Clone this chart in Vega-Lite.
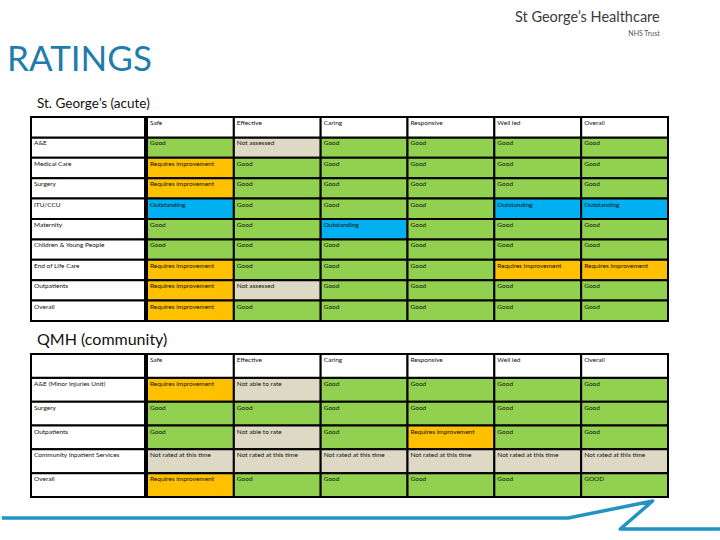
{
  "$schema": "https://vega.github.io/schema/vega-lite/v6.json",
  "background": "white",
  "padding": {"left": 0, "top": 9, "right": 0, "bottom": 0},
  "config": {"view": {"stroke": null}},
  "title": {"text": "St George’s Healthcare", "subtitle": "NHS Trust", "anchor": "end", "font": "Lato", "fontSize": 14.5, "fontWeight": "normal", "color": "#3a3a3a", "subtitleFont": "Lato", "subtitleFontSize": 7, "subtitleColor": "#555555", "subtitlePadding": 5, "dx": -62, "offset": 5},
  "datasets": {
    "acute": [
      {"service": "A&E", "measure": "Safe", "rating": "Good"},
      {"service": "A&E", "measure": "Effective", "rating": "Not assessed"},
      {"service": "A&E", "measure": "Caring", "rating": "Good"},
      {"service": "A&E", "measure": "Responsive", "rating": "Good"},
      {"service": "A&E", "measure": "Well led", "rating": "Good"},
      {"service": "A&E", "measure": "Overall", "rating": "Good"},
      {"service": "Medical Care", "measure": "Safe", "rating": "Requires improvement"},
      {"service": "Medical Care", "measure": "Effective", "rating": "Good"},
      {"service": "Medical Care", "measure": "Caring", "rating": "Good"},
      {"service": "Medical Care", "measure": "Responsive", "rating": "Good"},
      {"service": "Medical Care", "measure": "Well led", "rating": "Good"},
      {"service": "Medical Care", "measure": "Overall", "rating": "Good"},
      {"service": "Surgery", "measure": "Safe", "rating": "Requires improvement"},
      {"service": "Surgery", "measure": "Effective", "rating": "Good"},
      {"service": "Surgery", "measure": "Caring", "rating": "Good"},
      {"service": "Surgery", "measure": "Responsive", "rating": "Good"},
      {"service": "Surgery", "measure": "Well led", "rating": "Good"},
      {"service": "Surgery", "measure": "Overall", "rating": "Good"},
      {"service": "ITU/CCU", "measure": "Safe", "rating": "Outstanding"},
      {"service": "ITU/CCU", "measure": "Effective", "rating": "Good"},
      {"service": "ITU/CCU", "measure": "Caring", "rating": "Good"},
      {"service": "ITU/CCU", "measure": "Responsive", "rating": "Good"},
      {"service": "ITU/CCU", "measure": "Well led", "rating": "Outstanding"},
      {"service": "ITU/CCU", "measure": "Overall", "rating": "Outstanding"},
      {"service": "Maternity", "measure": "Safe", "rating": "Good"},
      {"service": "Maternity", "measure": "Effective", "rating": "Good"},
      {"service": "Maternity", "measure": "Caring", "rating": "Outstanding"},
      {"service": "Maternity", "measure": "Responsive", "rating": "Good"},
      {"service": "Maternity", "measure": "Well led", "rating": "Good"},
      {"service": "Maternity", "measure": "Overall", "rating": "Good"},
      {"service": "Children & Young People", "measure": "Safe", "rating": "Good"},
      {"service": "Children & Young People", "measure": "Effective", "rating": "Good"},
      {"service": "Children & Young People", "measure": "Caring", "rating": "Good"},
      {"service": "Children & Young People", "measure": "Responsive", "rating": "Good"},
      {"service": "Children & Young People", "measure": "Well led", "rating": "Good"},
      {"service": "Children & Young People", "measure": "Overall", "rating": "Good"},
      {"service": "End of Life Care", "measure": "Safe", "rating": "Requires improvement"},
      {"service": "End of Life Care", "measure": "Effective", "rating": "Good"},
      {"service": "End of Life Care", "measure": "Caring", "rating": "Good"},
      {"service": "End of Life Care", "measure": "Responsive", "rating": "Good"},
      {"service": "End of Life Care", "measure": "Well led", "rating": "Requires improvement"},
      {"service": "End of Life Care", "measure": "Overall", "rating": "Requires improvement"},
      {"service": "Outpatients", "measure": "Safe", "rating": "Requires improvement"},
      {"service": "Outpatients", "measure": "Effective", "rating": "Not assessed"},
      {"service": "Outpatients", "measure": "Caring", "rating": "Good"},
      {"service": "Outpatients", "measure": "Responsive", "rating": "Good"},
      {"service": "Outpatients", "measure": "Well led", "rating": "Good"},
      {"service": "Outpatients", "measure": "Overall", "rating": "Good"},
      {"service": "Overall", "measure": "Safe", "rating": "Requires improvement"},
      {"service": "Overall", "measure": "Effective", "rating": "Good"},
      {"service": "Overall", "measure": "Caring", "rating": "Good"},
      {"service": "Overall", "measure": "Responsive", "rating": "Good"},
      {"service": "Overall", "measure": "Well led", "rating": "Good"},
      {"service": "Overall", "measure": "Overall", "rating": "Good"}
    ],
    "community": [
      {"service": "A&E (Minor Injuries Unit)", "measure": "Safe", "rating": "Requires improvement"},
      {"service": "A&E (Minor Injuries Unit)", "measure": "Effective", "rating": "Not able to rate"},
      {"service": "A&E (Minor Injuries Unit)", "measure": "Caring", "rating": "Good"},
      {"service": "A&E (Minor Injuries Unit)", "measure": "Responsive", "rating": "Good"},
      {"service": "A&E (Minor Injuries Unit)", "measure": "Well led", "rating": "Good"},
      {"service": "A&E (Minor Injuries Unit)", "measure": "Overall", "rating": "Good"},
      {"service": "Surgery", "measure": "Safe", "rating": "Good"},
      {"service": "Surgery", "measure": "Effective", "rating": "Good"},
      {"service": "Surgery", "measure": "Caring", "rating": "Good"},
      {"service": "Surgery", "measure": "Responsive", "rating": "Good"},
      {"service": "Surgery", "measure": "Well led", "rating": "Good"},
      {"service": "Surgery", "measure": "Overall", "rating": "Good"},
      {"service": "Outpatients", "measure": "Safe", "rating": "Good"},
      {"service": "Outpatients", "measure": "Effective", "rating": "Not able to rate"},
      {"service": "Outpatients", "measure": "Caring", "rating": "Good"},
      {"service": "Outpatients", "measure": "Responsive", "rating": "Requires improvement"},
      {"service": "Outpatients", "measure": "Well led", "rating": "Good"},
      {"service": "Outpatients", "measure": "Overall", "rating": "Good"},
      {"service": "Community Inpatient Services", "measure": "Safe", "rating": "Not rated at this time"},
      {"service": "Community Inpatient Services", "measure": "Effective", "rating": "Not rated at this time"},
      {"service": "Community Inpatient Services", "measure": "Caring", "rating": "Not rated at this time"},
      {"service": "Community Inpatient Services", "measure": "Responsive", "rating": "Not rated at this time"},
      {"service": "Community Inpatient Services", "measure": "Well led", "rating": "Not rated at this time"},
      {"service": "Community Inpatient Services", "measure": "Overall", "rating": "Not rated at this time"},
      {"service": "Overall", "measure": "Safe", "rating": "Requires improvement"},
      {"service": "Overall", "measure": "Effective", "rating": "Good"},
      {"service": "Overall", "measure": "Caring", "rating": "Good"},
      {"service": "Overall", "measure": "Responsive", "rating": "Good"},
      {"service": "Overall", "measure": "Well led", "rating": "Good"},
      {"service": "Overall", "measure": "Overall", "rating": "GOOD"}
    ],
    "headers": [
      {"service": "(header)", "measure": "Safe"},
      {"service": "(header)", "measure": "Effective"},
      {"service": "(header)", "measure": "Caring"},
      {"service": "(header)", "measure": "Responsive"},
      {"service": "(header)", "measure": "Well led"},
      {"service": "(header)", "measure": "Overall"}
    ],
    "swoosh": [
      {"step": 1, "pos": -4.6, "depth": 3},
      {"step": 2, "pos": 84.6, "depth": 3},
      {"step": 3, "pos": 97.9, "depth": -14},
      {"step": 4, "pos": 92.8, "depth": 14},
      {"step": 5, "pos": 108.5, "depth": 14}
    ]
  },
  "spacing": 10,
  "vconcat": [
    {
      "title": {"text": "RATINGS", "anchor": "start", "font": "Lato", "fontSize": 35, "fontWeight": "normal", "color": "#1E7DAD", "dx": -23, "offset": 18.5},
      "vconcat": [
        {
          "title": {"text": "St. George’s (acute)", "anchor": "start", "font": "Lato", "fontSize": 13.5, "fontWeight": "normal", "color": "#111111", "dx": 7, "offset": 6},
          "spacing": 0,
          "hconcat": [
            {
              "width": 114, "height": 204,
              "data": {"name": "acute"},
              "transform": [{"filter": "datum.measure === 'Safe'"}],
              "layer": [
                {
                  "mark": {"type": "rect", "fill": "white", "stroke": "black", "strokeWidth": 2},
                  "encoding": {
                    "x": {"datum": "label", "type": "nominal", "scale": {"type": "band", "domain": ["label"], "paddingInner": 0, "paddingOuter": 0}, "axis": null},
                    "y": {"field": "service", "type": "nominal", "scale": {"type": "band", "domain": ["(header)", "A&E", "Medical Care", "Surgery", "ITU/CCU", "Maternity", "Children & Young People", "End of Life Care", "Outpatients", "Overall"], "paddingInner": 0, "paddingOuter": 0}, "axis": null}
                  }
                },
                {
                  "data": {"values": [{"service": "(header)"}]},
                  "transform": [],
                  "mark": {"type": "rect", "fill": "white", "stroke": "black", "strokeWidth": 2},
                  "encoding": {
                    "x": {"datum": "label", "type": "nominal"},
                    "y": {"field": "service", "type": "nominal"}
                  }
                },
                {
                  "mark": {"type": "text", "align": "left", "baseline": "top", "dx": 3, "dy": 3, "font": "Lato", "fontSize": 6.5, "color": "#111111"},
                  "encoding": {
                    "x": {"datum": "label", "type": "nominal", "bandPosition": 0},
                    "y": {"field": "service", "type": "nominal", "bandPosition": 0},
                    "text": {"field": "service"}
                  }
                }
              ]
            },
            {
              "width": 521, "height": 204,
              "layer": [
                {
                  "data": {"name": "acute"},
                  "mark": {"type": "rect", "stroke": "black", "strokeWidth": 2},
                  "encoding": {
                    "x": {"field": "measure", "type": "nominal", "scale": {"type": "band", "domain": ["Safe", "Effective", "Caring", "Responsive", "Well led", "Overall"], "paddingInner": 0, "paddingOuter": 0}, "axis": null},
                    "y": {"field": "service", "type": "nominal", "scale": {"type": "band", "domain": ["(header)", "A&E", "Medical Care", "Surgery", "ITU/CCU", "Maternity", "Children & Young People", "End of Life Care", "Outpatients", "Overall"], "paddingInner": 0, "paddingOuter": 0}, "axis": null},
                    "fill": {"field": "rating", "type": "nominal", "scale": {"domain": ["Good", "GOOD", "Requires improvement", "Outstanding", "Not assessed", "Not able to rate", "Not rated at this time"], "range": ["#92D050", "#92D050", "#FFC000", "#00B0F0", "#DDD9C4", "#DDD9C4", "#DDD9C4"]}, "legend": null}
                  }
                },
                {
                  "data": {"name": "headers"},
                  "mark": {"type": "rect", "fill": "white", "stroke": "black", "strokeWidth": 2},
                  "encoding": {
                    "x": {"field": "measure", "type": "nominal"},
                    "y": {"field": "service", "type": "nominal"}
                  }
                },
                {
                  "data": {"name": "acute"},
                  "mark": {"type": "text", "align": "left", "baseline": "top", "dx": 3, "dy": 3, "font": "Lato", "fontSize": 6.5, "color": "#111111"},
                  "encoding": {
                    "x": {"field": "measure", "type": "nominal", "bandPosition": 0},
                    "y": {"field": "service", "type": "nominal", "bandPosition": 0},
                    "text": {"field": "rating"}
                  }
                },
                {
                  "data": {"name": "headers"},
                  "mark": {"type": "text", "align": "left", "baseline": "top", "dx": 3, "dy": 3, "font": "Lato", "fontSize": 6.5, "color": "#111111"},
                  "encoding": {
                    "x": {"field": "measure", "type": "nominal", "bandPosition": 0},
                    "y": {"field": "service", "type": "nominal", "bandPosition": 0},
                    "text": {"field": "measure"}
                  }
                }
              ]
            }
          ]
        }
      ]
    },
    {
      "title": {"text": "QMH (community)", "anchor": "start", "font": "Lato", "fontSize": 16, "fontWeight": "normal", "color": "#111111", "dx": 37, "offset": 5},
      "spacing": 1,
      "vconcat": [
        {
          "spacing": 0,
          "hconcat": [
            {
              "width": 114, "height": 143,
              "data": {"name": "community"},
              "transform": [{"filter": "datum.measure === 'Safe'"}],
              "layer": [
                {
                  "mark": {"type": "rect", "fill": "white", "stroke": "black", "strokeWidth": 2},
                  "encoding": {
                    "x": {"datum": "label", "type": "nominal", "scale": {"type": "band", "domain": ["label"], "paddingInner": 0, "paddingOuter": 0}, "axis": null},
                    "y": {"field": "service", "type": "nominal", "scale": {"type": "band", "domain": ["(header)", "A&E (Minor Injuries Unit)", "Surgery", "Outpatients", "Community Inpatient Services", "Overall"], "paddingInner": 0, "paddingOuter": 0}, "axis": null}
                  }
                },
                {
                  "data": {"values": [{"service": "(header)"}]},
                  "transform": [],
                  "mark": {"type": "rect", "fill": "white", "stroke": "black", "strokeWidth": 2},
                  "encoding": {
                    "x": {"datum": "label", "type": "nominal"},
                    "y": {"field": "service", "type": "nominal"}
                  }
                },
                {
                  "mark": {"type": "text", "align": "left", "baseline": "top", "dx": 3, "dy": 3, "font": "Lato", "fontSize": 6.5, "color": "#111111"},
                  "encoding": {
                    "x": {"datum": "label", "type": "nominal", "bandPosition": 0},
                    "y": {"field": "service", "type": "nominal", "bandPosition": 0},
                    "text": {"field": "service"}
                  }
                }
              ]
            },
            {
              "width": 521, "height": 143,
              "layer": [
                {
                  "data": {"name": "community"},
                  "mark": {"type": "rect", "stroke": "black", "strokeWidth": 2},
                  "encoding": {
                    "x": {"field": "measure", "type": "nominal", "scale": {"type": "band", "domain": ["Safe", "Effective", "Caring", "Responsive", "Well led", "Overall"], "paddingInner": 0, "paddingOuter": 0}, "axis": null},
                    "y": {"field": "service", "type": "nominal", "scale": {"type": "band", "domain": ["(header)", "A&E (Minor Injuries Unit)", "Surgery", "Outpatients", "Community Inpatient Services", "Overall"], "paddingInner": 0, "paddingOuter": 0}, "axis": null},
                    "fill": {"field": "rating", "type": "nominal", "scale": {"domain": ["Good", "GOOD", "Requires improvement", "Outstanding", "Not assessed", "Not able to rate", "Not rated at this time"], "range": ["#92D050", "#92D050", "#FFC000", "#00B0F0", "#DDD9C4", "#DDD9C4", "#DDD9C4"]}, "legend": null}
                  }
                },
                {
                  "data": {"name": "headers"},
                  "mark": {"type": "rect", "fill": "white", "stroke": "black", "strokeWidth": 2},
                  "encoding": {
                    "x": {"field": "measure", "type": "nominal"},
                    "y": {"field": "service", "type": "nominal"}
                  }
                },
                {
                  "data": {"name": "community"},
                  "mark": {"type": "text", "align": "left", "baseline": "top", "dx": 3, "dy": 3, "font": "Lato", "fontSize": 6.5, "color": "#111111"},
                  "encoding": {
                    "x": {"field": "measure", "type": "nominal", "bandPosition": 0},
                    "y": {"field": "service", "type": "nominal", "bandPosition": 0},
                    "text": {"field": "rating"}
                  }
                },
                {
                  "data": {"name": "headers"},
                  "mark": {"type": "text", "align": "left", "baseline": "top", "dx": 3, "dy": 3, "font": "Lato", "fontSize": 6.5, "color": "#111111"},
                  "encoding": {
                    "x": {"field": "measure", "type": "nominal", "bandPosition": 0},
                    "y": {"field": "service", "type": "nominal", "bandPosition": 0},
                    "text": {"field": "measure"}
                  }
                }
              ]
            }
          ]
        },
        {
          "width": 635, "height": 30,
          "data": {"name": "swoosh"},
          "mark": {"type": "line", "color": "#2592C4", "strokeWidth": 3.5, "clip": false, "strokeCap": "butt", "strokeJoin": "round"},
          "encoding": {
            "x": {"field": "pos", "type": "quantitative", "scale": {"domain": [0, 100], "zero": false, "nice": false}, "axis": null},
            "y": {"field": "depth", "type": "quantitative", "scale": {"domain": [0, 30], "reverse": true, "zero": false, "nice": false}, "axis": null},
            "order": {"field": "step", "type": "quantitative"}
          }
        }
      ]
    }
  ]
}
